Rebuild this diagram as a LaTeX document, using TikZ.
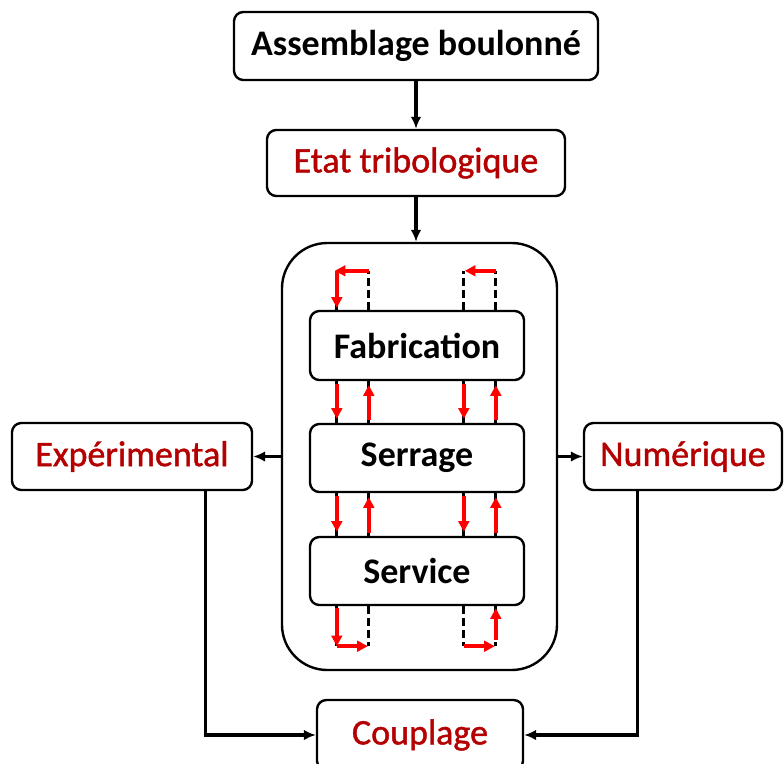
\documentclass[tikz,border=0pt]{standalone}
\usepackage{fontspec}
\setmainfont{Carlito}
\usetikzlibrary{arrows.meta,calc}
\definecolor{darkRed}{RGB}{180,0,0}
\newcommand{\boxLine}{1.8pt}
\newcommand{\bigFont}{\fontsize{27}{30}\selectfont}
\font\redFace="Carlito:embolden=1.2" at 27pt
\tikzset{
  box/.style={draw, line width=\boxLine, rounded corners=7pt, align=center, inner sep=0pt, fill=white},
  titleText/.style={font=\bigFont\bfseries},
  redText/.style={text=darkRed, font=\redFace},
  link/.style={line width=2.4pt, -{Latex[length=9pt,width=8pt]}},
  redArrow/.style={draw=red, line width=2.8pt, -{Triangle[length=8pt,width=8pt]}},
  dashLine/.style={line width=2.2pt, dash pattern=on 6pt off 3pt}
}

\begin{document}
\begin{tikzpicture}[x=0.75pt, y=-0.75pt]
  \useasboundingbox (0,0) rectangle (784,763);

  \node[box, minimum width=273pt, minimum height=51pt, titleText] (asm) at (416,46) {Assemblage boulonné};
  \node[box, minimum width=223.5pt, minimum height=49.5pt, redText] (etat) at (416,163) {Etat tribologique};
  \node[draw, line width=\boxLine, rounded corners=34pt, minimum width=206.25pt, minimum height=320.25pt] (cont) at (419.5,456.5) {};

  \node[box, minimum width=160.5pt, minimum height=51.75pt, titleText] (fab) at (417,345.5) {Fabrication};
  \node[box, minimum width=160.5pt, minimum height=51pt, titleText] (serr) at (417,458) {Serrage};
  \node[box, minimum width=160.5pt, minimum height=51pt, titleText] (serv) at (417,571) {Service};

  \node[box, minimum width=180pt, minimum height=50.25pt, redText] (exp) at (132,456.5) {Expérimental};
  \node[box, minimum width=148.5pt, minimum height=50.25pt, redText] (num) at (683,456.5) {Numérique};
  \node[box, minimum width=154.5pt, minimum height=52.5pt, redText] (coup) at (420,735) {Couplage};

  \draw[link] (asm) -- (etat);
  \draw[link] (etat.south) -- (etat.south |- cont.north);
  \draw[link] (cont) -- (exp);
  \draw[link] (cont) -- (num);
  \draw[link] ($(exp.south east)+(-48,0)$) |- (coup.west);
  \draw[link] ($(num.south west)+(55,0)$) |- (coup.east);

  % boucles entre les etapes
  \foreach \up/\lo in {fab/serr, serr/serv}
  {%
     \foreach \dx in {28,60,155,187}
        \draw[line width=2.2pt] ($(\up.south west)+(\dx,0)$) -- ($(\lo.north west)+(\dx,0)$);
     \foreach \dx in {28,155}
        \draw[redArrow] ($(\up.south west)+(\dx,3)$) -- ($(\lo.north west)+(\dx,-4)$);
     \foreach \dx in {60,187}
        \draw[redArrow] ($(\lo.north west)+(\dx,-3)$) -- ($(\up.south west)+(\dx,4)$);
  }

  % boucles du haut
  \foreach \dx in {28,60,155,187}
     \draw[dashLine] ($(fab.north west)+(\dx,0)$) -- ($(fab.north west)+(\dx,-39)$);
  \draw[redArrow] ($(fab.north west)+(60,-39)$) -- ($(fab.north west)+(26,-39)$);
  \draw[redArrow] ($(fab.north west)+(28,-39)$) -- ($(fab.north west)+(28,-2)$);
  \draw[redArrow] ($(fab.north west)+(187,-39)$) -- ($(fab.north west)+(156,-39)$);

  % boucles du bas
  \foreach \dx in {28,60,155,187}
     \draw[dashLine] ($(serv.south west)+(\dx,0)$) -- ($(serv.south west)+(\dx,40)$);
  \draw[redArrow] ($(serv.south west)+(28,2)$) -- ($(serv.south west)+(28,40)$);
  \draw[redArrow] ($(serv.south west)+(28,40)$) -- ($(serv.south west)+(59,40)$);
  \draw[redArrow] ($(serv.south west)+(155,40)$) -- ($(serv.south west)+(186,40)$);
  \draw[redArrow] ($(serv.south west)+(187,34)$) -- ($(serv.south west)+(187,2)$);
\end{tikzpicture}
\end{document}
